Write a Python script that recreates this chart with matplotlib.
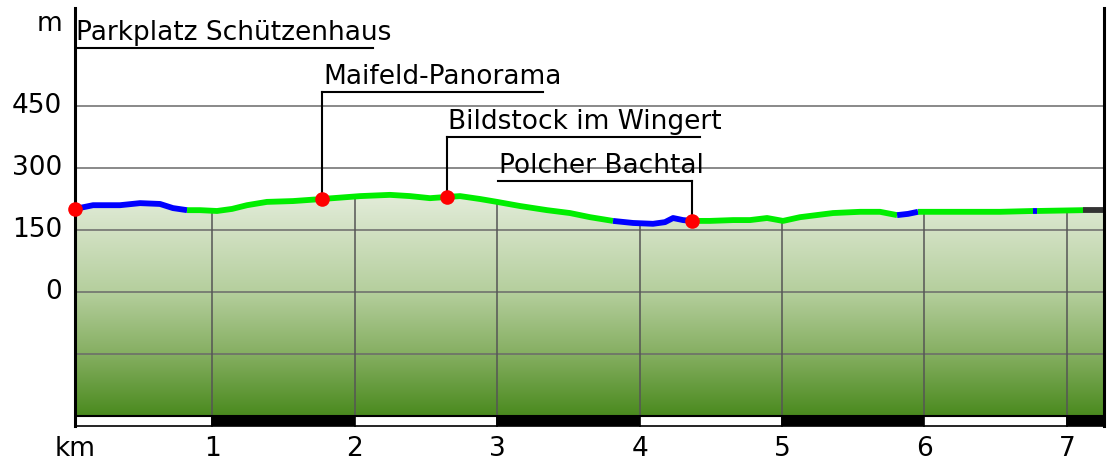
import matplotlib
matplotlib.use("Agg")
import matplotlib.pyplot as plt
import numpy as np
from matplotlib.colors import LinearSegmentedColormap
from matplotlib.patches import Polygon, Rectangle
from matplotlib.transforms import offset_copy

# ---------------- data ----------------
dist_km = [0.035, 0.162, 0.351, 0.492, 0.632, 0.723, 0.822, 0.913, 1.032, 1.138,
           1.243, 1.383, 1.566, 1.770, 2.037, 2.247, 2.388, 2.528, 2.647, 2.739,
           2.879, 2.999, 3.160, 3.350, 3.511, 3.652, 3.813, 3.954, 4.094, 4.178,
           4.235, 4.305, 4.368, 4.494, 4.656, 4.775, 4.895, 5.007, 5.126, 5.358,
           5.548, 5.688, 5.808, 5.885, 5.955, 6.250, 6.531, 6.763, 6.791, 7.114,
           7.261]
elev_m = [201, 210, 210, 215, 213, 203, 198, 198, 196, 201,
          210, 218, 220, 225, 232, 235, 232, 227, 230, 232,
          225, 218, 208, 198, 191, 181, 172, 167, 165, 169,
          179, 174, 172, 172, 174, 174, 179, 172, 181, 191,
          194, 194, 186, 189, 194, 194, 194, 196, 196, 198,
          198]

# surface sections along the route
surface_breaks = [0.035, 0.822, 3.813, 4.368, 5.808, 5.955, 6.763, 6.791, 7.114, 7.261]
surface_type = ["asphalt", "path", "asphalt", "path", "asphalt", "path",
                "asphalt", "path", "unknown"]

# waypoints
wp_names = ["Parkplatz Schützenhaus", "Maifeld-Panorama",
            "Bildstock im Wingert", "Polcher Bachtal"]
wp_km = [0.035, 1.770, 2.647, 4.368]
wp_elev = [201, 225, 230, 172]

y_ticks = [450, 300, 150, 0]
y_grid = [450, 300, 150, 0, -150]
x_ticks = [1, 2, 3, 4, 5, 6, 7]

# ---------------- styles / layout ----------------
surface_color = {"asphalt": "#0000ff", "path": "#00ee00", "unknown": "#333333"}
FONT = "DejaVu Sans"
FS = 19

fig = plt.figure(figsize=(11.12, 4.61), dpi=100)
ax = fig.add_axes([75 / 1112, 35 / 461, 1029 / 1112, 418 / 461])
x0, x1 = 0.0351, 7.261
y_bot, y_top = -324.2, 687.1
base = -300
ax.set_xlim(x0, x1)
ax.set_ylim(y_bot, y_top)
ax.axis("off")

d = np.array(dist_km)
e = np.array(elev_m)

# gradient fill under the profile
cmap = LinearSegmentedColormap.from_list(
    "g", [(0.0, "#4a8a1e"), (0.28, "#86af62"), (0.55, "#b4ce9c"), (1.0, "#e4eddb")])
grad = np.linspace(0, 1, 256).reshape(-1, 1)
im = ax.imshow(grad, cmap=cmap, origin="lower", aspect="auto",
               extent=[x0, x1, base, 240], zorder=1)
poly = Polygon(np.column_stack([np.r_[d, d[-1], d[0]], np.r_[e, base, base]]),
               closed=True, facecolor="none", edgecolor="none")
ax.add_patch(poly)
im.set_clip_path(poly)
ax.set_xlim(x0, x1)
ax.set_ylim(y_bot, y_top)

# horizontal grid
for g in y_grid:
    ax.plot([x0, x1], [g, g], color="#6a6a6a", lw=1.1, zorder=2)
# vertical grid up to profile
for t in x_ticks:
    top = np.interp(t, d, e)
    ax.plot([t, t], [base, top], color="#555555", lw=1.1, zorder=2)

# profile line by surface section
for i, st in enumerate(surface_type):
    a, b = surface_breaks[i], surface_breaks[i + 1]
    m = (d >= a - 1e-9) & (d <= b + 1e-9)
    ax.plot(d[m], e[m], color=surface_color[st], lw=4.2, solid_capstyle="butt",
            solid_joinstyle="round", zorder=4)

# scale bar below
for k in range(int(np.ceil(x1))):
    a = max(k, x0)
    b = min(k + 1, x1)
    fc = "white" if k % 2 == 0 else "black"
    ax.add_patch(Rectangle((a, y_bot), b - a, base - y_bot, facecolor=fc,
                           edgecolor="black", lw=1.2, zorder=3, clip_on=False))

# axis lines
ax.plot([x0, x0], [y_bot, y_top], color="black", lw=2.2, zorder=5, clip_on=False)
ax.plot([x1, x1], [y_bot, y_top], color="black", lw=2.2, zorder=5, clip_on=False)
ax.plot([x0, x1], [base, base], color="black", lw=1.5, zorder=3)

# tick labels
ylab_tr = offset_copy(ax.transData, fig=fig, x=-13, y=0, units="dots")
for t in y_ticks:
    ax.text(x0, t, str(t), transform=ylab_tr, ha="right", va="center",
            fontsize=FS, family=FONT, clip_on=False)
ax.text(-13 / 1029, 1 - 23 / 418, "m", transform=ax.transAxes, ha="right",
        va="baseline", fontsize=FS, family=FONT)
xlab_y = -(456 - 426) / 418
for t in x_ticks:
    ax.text(t, xlab_y, str(t), transform=ax.get_xaxis_transform(), ha="center",
            va="baseline", fontsize=FS, family=FONT, clip_on=False)
ax.text(x0, xlab_y, "km", transform=ax.get_xaxis_transform(), ha="center",
        va="baseline", fontsize=FS, family=FONT, clip_on=False)

# waypoint labels
line_levels = [590, 484, 375, 269]
underline_start = [0.035, 1.770, 2.647, 3.006]
underline_end = [2.128, 3.320, 4.424, 4.368]
txt_tr = offset_copy(ax.transData, fig=fig, x=1, y=8, units="dots")
for name, k, el, lvl, us, ue in zip(wp_names, wp_km, wp_elev, line_levels,
                                     underline_start, underline_end):
    ax.plot([us, ue], [lvl, lvl], color="black", lw=1.5, zorder=5)
    ax.plot([k, k], [lvl, el], color="black", lw=1.5, zorder=5)
    ax.text(us, lvl, name, transform=txt_tr, ha="left", va="baseline",
            fontsize=FS, family=FONT, zorder=6)
    ax.plot([k], [el], "o", color="#ff0000", ms=10.5, mec="none", zorder=7,
            clip_on=False)

fig.savefig("out.png", dpi=100)
